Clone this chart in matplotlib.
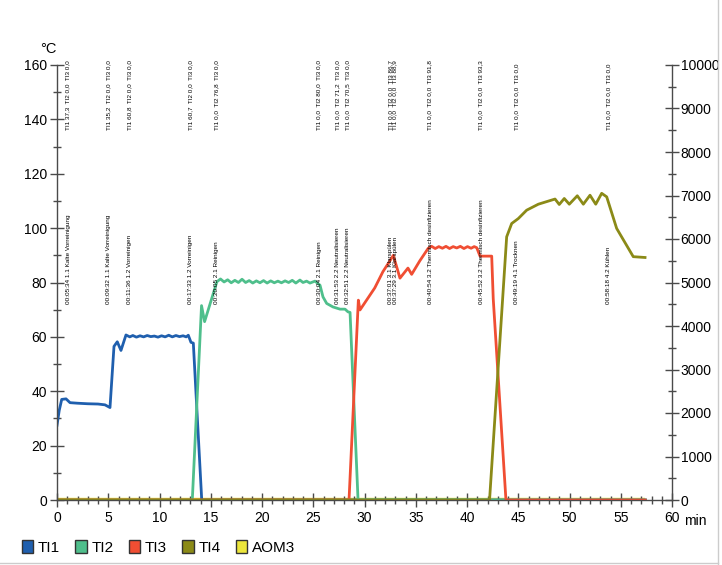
import matplotlib
matplotlib.use("Agg")
import matplotlib.pyplot as plt
from matplotlib.patches import Patch
from matplotlib.lines import Line2D
from matplotlib.ticker import MultipleLocator

plt.rcParams['font.family'] = ['Liberation Sans', 'DejaVu Sans']

# temperature curves, time in minutes since start of the run
ti1_t = [0.0, 0.22, 0.46, 0.88, 1.27, 2.0, 3.0, 4.0, 4.68, 5.17, 5.56, 5.88, 6.24,
         6.73, 7.1, 7.4, 7.75, 8.1, 8.45, 8.8, 9.15, 9.5, 9.85, 10.2, 10.55, 10.9,
         11.25, 11.6, 11.95, 12.3, 12.6, 12.81, 13.07, 13.3, 14.12, 57.4]
ti1_v = [27.5, 33.0, 37.0, 37.2, 35.8, 35.6, 35.4, 35.3, 35.0, 34.0, 56.5, 58.2, 55.0,
         60.7, 60.0, 60.5, 59.9, 60.4, 60.0, 60.5, 60.1, 60.3, 59.9, 60.4, 60.0, 60.6,
         60.0, 60.5, 60.1, 60.4, 60.0, 60.6, 58.0, 57.7, 0.0, 0.0]

ti2_t = [0.0, 13.2, 14.1, 14.4, 15.6, 15.95, 16.3, 16.65, 17.0, 17.35, 17.7, 18.05,
         18.4, 18.75, 19.1, 19.45, 19.8, 20.15, 20.5, 20.85, 21.2, 21.55, 21.9, 22.25,
         22.6, 22.95, 23.3, 23.7, 24.0, 24.35, 24.68, 25.17, 25.66, 25.95, 26.31,
         26.93, 27.61, 28.1, 28.39, 28.59, 29.37, 57.4]
ti2_v = [0.0, 0.0, 71.5, 65.6, 80.3, 81.3, 80.2, 81.0, 79.9, 80.8, 80.0, 81.2,
         80.0, 80.7, 79.8, 80.6, 79.9, 80.7, 79.8, 80.6, 79.9, 80.5, 79.9, 80.6,
         80.0, 80.8, 79.8, 80.9, 80.0, 80.5, 79.8, 80.5, 79.0, 74.7, 72.3,
         71.0, 70.2, 70.2, 69.2, 69.0, 0.0, 0.0]

ti3_t = [0.0, 28.49, 29.4, 29.56, 30.2, 31.0, 31.8, 32.4, 32.81, 33.46, 34.24, 34.6,
         35.4, 36.22, 36.55, 36.9, 37.25, 37.6, 37.95, 38.3, 38.65, 39.0, 39.35, 39.7,
         40.05, 40.4, 40.7, 40.95, 41.27, 42.41, 42.56, 43.8, 57.4]
ti3_v = [0.0, 0.0, 73.5, 69.9, 73.5, 78.0, 84.0, 87.5, 90.0, 81.6, 85.3, 83.0,
         88.0, 92.6, 93.3, 92.5, 93.2, 92.6, 93.3, 92.5, 93.2, 92.7, 93.3, 92.5,
         93.2, 92.6, 93.2, 92.8, 89.7, 89.7, 74.0, 0.0, 0.0]

ti4_t = [0.0, 42.2, 43.87, 44.36, 45.0, 45.82, 46.96, 48.59, 49.0, 49.49, 49.98,
         50.76, 51.35, 52.0, 52.56, 53.14, 53.63, 54.6, 56.22, 57.37]
ti4_v = [0.0, 0.0, 96.8, 101.7, 103.5, 106.6, 108.8, 110.7, 108.7, 110.9, 108.8,
         111.9, 108.8, 112.1, 108.8, 112.8, 111.5, 99.9, 89.5, 89.2]

aom3_t = [0.0, 57.4]
aom3_v = [0.0, 0.0]

# program steps logged during the run
run_start = "00:04:29"
event_times = ["00:05:34", "00:09:32", "00:11:36", "00:17:33", "00:20:05",
               "00:30:04", "00:31:53", "00:32:51", "00:37:01", "00:37:29",
               "00:40:54", "00:45:52", "00:49:19", "00:58:18"]
event_steps = ["1.1 Kalte Vorreinigung", "1.1 Kalte Vorreinigung", "1.2 Vorreinigen",
               "1.2 Vorreinigen", "2.1 Reinigen", "2.1 Reinigen", "2.2 Neutralisieren",
               "2.2 Neutralisieren", "3.1 Klarspülen", "3.1 Klarspülen",
               "3.2 Thermisch desinfizieren", "3.2 Thermisch desinfizieren",
               "4.1 Trocknen", "4.2 Kühlen"]
event_ti1 = [37.3, 35.2, 60.8, 60.7, 0.0, 0.0, 0.0, 0.0, 0.0, 0.0, 0.0, 0.0, 0.0, 0.0]
event_ti2 = [0.0, 0.0, 0.0, 0.0, 76.8, 80.0, 71.2, 70.5, 0.0, 0.0, 0.0, 0.0, 0.0, 0.0]
event_ti3 = [0.0, 0.0, 0.0, 0.0, 0.0, 0.0, 0.0, 0.0, 86.7, 88.9, 91.8, 93.3, 0.0, 0.0]

colors = {"TI1": "#1f5fae", "TI2": "#4fbf8c", "TI3": "#f04e33",
          "TI4": "#8b8a17", "AOM3": "#ece63c"}
axis_col = "#4a4a4a"


def to_min(s):
    h, m, sec = [int(p) for p in s.split(":")]
    return h * 60 + m + sec / 60.0


def fmt(v):
    return ("%.1f" % v).replace(".", ",")


fig = plt.figure(figsize=(7.22, 5.65), dpi=100)
ax = fig.add_axes([57 / 722, 1 - 500 / 565, 615 / 722, 435 / 565])
ax2 = ax.twinx()

ax2.plot(aom3_t, aom3_v, color=colors["AOM3"], lw=3.2, solid_capstyle="butt")
ax.plot(ti1_t, ti1_v, color=colors["TI1"], lw=2.0)
ax.plot(ti2_t, ti2_v, color=colors["TI2"], lw=2.0)
ax.plot(ti3_t, ti3_v, color=colors["TI3"], lw=2.0)
ax.plot(ti4_t, ti4_v, color=colors["TI4"], lw=2.0)
ax.set_zorder(ax2.get_zorder() + 1)
ax.patch.set_visible(False)

ax.set_xlim(0, 60)
ax.set_ylim(0, 160)
ax2.set_ylim(0, 10000)

for a in (ax, ax2):
    a.spines["top"].set_visible(False)
    for s in a.spines.values():
        s.set_color(axis_col)
        s.set_linewidth(1.0)
ax.spines["right"].set_visible(False)
ax2.spines["left"].set_visible(False)
ax2.spines["bottom"].set_visible(False)

ax.xaxis.set_major_locator(MultipleLocator(5))
ax.xaxis.set_minor_locator(MultipleLocator(1))
ax.yaxis.set_major_locator(MultipleLocator(20))
ax.yaxis.set_minor_locator(MultipleLocator(10))
ax2.yaxis.set_major_locator(MultipleLocator(1000))
ax2.yaxis.set_minor_locator(MultipleLocator(500))

ax.tick_params(axis="both", which="major", direction="inout", length=10.5,
               width=1.0, color=axis_col, labelsize=10, pad=2)
ax.tick_params(axis="both", which="minor", direction="inout", length=6,
               width=1.0, color=axis_col)
ax.tick_params(axis="x", which="major", pad=3)
ax2.tick_params(axis="y", which="major", direction="inout", length=10.5,
                width=1.0, color=axis_col, labelsize=10, pad=1)
ax2.tick_params(axis="y", which="minor", direction="inout", length=6,
                width=1.0, color=axis_col)

ax.text(-0.028, 1.02, "°C", transform=ax.transAxes, fontsize=10.5, va="bottom")
ax.annotate("min", xy=(60, 0), xytext=(9, -10), textcoords="offset points",
            fontsize=10, ha="left", va="top")

# step markers: measured values on top, time and step name below
t0 = to_min(run_start)
for i, t in enumerate(event_times):
    x = to_min(t) - t0
    top = "TI1 %s  TI2 %s  TI3 %s" % (fmt(event_ti1[i]), fmt(event_ti2[i]), fmt(event_ti3[i]))
    ax.text(x, 136, top, rotation=90, fontsize=4.6, ha="center", va="bottom",
            clip_on=False)
    ax.text(x, 72, t + " " + event_steps[i], rotation=90, fontsize=4.6,
            ha="center", va="bottom", clip_on=False)

handles = [Patch(facecolor=colors[k], edgecolor="#333333", linewidth=1.0, label=k)
           for k in ["TI1", "TI2", "TI3", "TI4", "AOM3"]]
fig.legend(handles=handles, loc="lower left", bbox_to_anchor=(0.022, 0.007),
           ncol=5, frameon=False, fontsize=11, handlelength=0.75, handleheight=0.9,
           handletextpad=0.3, columnspacing=1.0, borderaxespad=0.0)

# light frame on the right and bottom edge
fig.add_artist(Line2D([0.995, 0.995], [0.0, 1.0], transform=fig.transFigure,
                      color="#cccccc", lw=1.0))
fig.add_artist(Line2D([0.0, 0.995], [0.004, 0.004], transform=fig.transFigure,
                      color="#cccccc", lw=1.0))

fig.savefig("out.png", dpi=100)
